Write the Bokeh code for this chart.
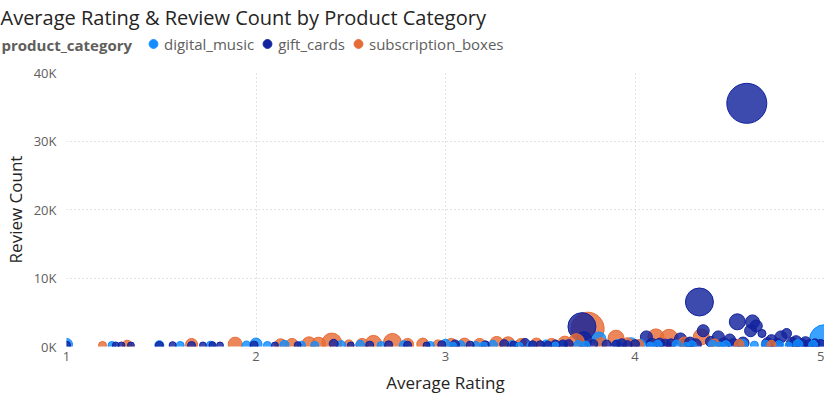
import numpy as np
import pandas as pd
from bokeh.plotting import figure
from bokeh.layouts import column
from bokeh.core.properties import value
from bokeh.models import (ColumnDataSource, Legend, LegendItem,
                          FixedTicker, CustomJSTickFormatter)
from bokeh.transform import factor_cmap
from bokeh.embed import file_html
from bokeh.resources import INLINE

# ---------------- data ----------------
categories = ["digital_music", "gift_cards", "subscription_boxes"]
colors = ["#118DFF", "#12239E", "#E66C37"]
legend_title = "product_category"
chart_title = "Average Rating & Review Count by Product Category"

dm_rating = [1.00, 1.24, 1.49, 1.60, 1.76, 1.95, 2.00, 2.06, 2.15, 2.24,
             2.31, 2.45, 2.55, 2.66, 2.78, 2.92, 3.00, 3.08, 3.16, 3.25,
             3.35, 3.45, 3.53, 3.62, 3.70, 3.81, 3.91, 3.98, 4.03, 4.12,
             4.22, 4.30, 4.41, 4.48, 4.57, 4.69, 4.76, 4.86, 4.94, 5.00,
             3.04, 3.20, 3.39, 3.58, 3.74, 4.08, 4.27, 4.45, 4.63, 4.81]
dm_count = [300, 150, 200, 150, 200, 150, 350, 150, 250, 200,
            150, 200, 250, 150, 200, 150, 350, 200, 150, 250,
            200, 150, 300, 200, 250, 1100, 300, 400, 350, 250,
            300, 200, 250, 200, 300, 250, 200, 300, 250, 1000,
            100, 150, 100, 150, 200, 150, 100, 150, 200, 150]
dm_size = [9, 4, 5, 4, 4, 5, 9, 4, 5, 4,
           4, 5, 5, 4, 5, 4, 6, 5, 4, 5,
           5, 4, 5, 5, 5, 12, 6, 9, 6, 5,
           5, 5, 5, 5, 6, 5, 5, 6, 5, 56,
           3, 3, 3, 3, 4, 3, 3, 3, 4, 3]

gc_rating = [1.00, 1.26, 1.29, 1.34, 1.49, 1.56, 1.66, 1.72, 1.77, 1.81,
             1.99, 2.10, 2.22, 2.41, 2.50, 2.60, 2.70, 2.80, 2.90, 2.98,
             3.05, 3.13, 3.21, 3.31, 3.42, 3.50, 3.58, 3.65, 3.72, 3.73,
             3.78, 3.85, 3.93, 4.00, 4.06, 4.13, 4.19, 4.24, 4.29, 4.34,
             4.36, 4.40, 4.44, 4.50, 4.54, 4.59, 4.61, 4.62, 4.64, 4.67,
             4.72, 4.77, 4.80, 4.85, 4.90, 4.95,
             4.09, 4.16, 4.27, 4.32, 4.47, 4.52, 4.57, 4.70, 4.75, 4.83,
             4.88, 4.92, 4.98, 3.36, 3.46, 3.54, 3.62, 3.90, 3.96]
gc_count = [200, 150, 150, 150, 150, 200, 150, 150, 200, 150,
            200, 150, 200, 400, 150, 200, 250, 200, 150, 250,
            300, 200, 250, 350, 450, 250, 300, 350, 2900, 1000,
            350, 300, 400, 350, 1400, 500, 400, 1100, 600, 6500,
            2300, 700, 1400, 1000, 3600, 35500, 2300, 3600, 3000, 1900,
            900, 1400, 1900, 700, 600, 400,
            300, 250, 350, 300, 400, 350, 500, 400, 350, 450,
            300, 250, 300, 200, 250, 200, 300, 250, 200]
gc_size = [4, 3, 3, 3, 4, 3, 4, 3, 3, 3,
           4, 3, 3, 5, 3, 4, 4, 4, 3, 4,
           5, 4, 4, 5, 6, 4, 5, 5, 49, 16,
           5, 5, 6, 5, 9, 6, 6, 9, 7, 49,
           9, 7, 9, 8, 16, 100, 9, 12, 9, 4,
           8, 9, 6, 9, 8, 6,
           9, 8, 9, 8, 9, 8, 9, 9, 8, 9,
           8, 6, 6, 4, 4, 4, 5, 5, 5]

sb_rating = [1.19, 1.32, 1.66, 1.89, 2.13, 2.19, 2.28, 2.33, 2.40, 2.49,
             2.56, 2.62, 2.72, 2.80, 2.88, 2.96, 3.03, 3.10, 3.18, 3.27,
             3.33, 3.40, 3.48, 3.56, 3.63, 3.69, 3.75, 3.82, 3.90, 3.96,
             4.02, 4.11, 4.18, 4.26, 4.35, 4.42, 4.55, 4.72]
sb_count = [150, 200, 300, 350, 250, 300, 400, 350, 500, 250,
            300, 450, 600, 300, 350, 250, 300, 350, 300, 450,
            400, 300, 350, 300, 500, 700, 2600, 400, 1200, 400,
            300, 1400, 1200, 500, 1400, 400, 300, 250]
sb_size = [4, 6, 9, 12, 9, 9, 12, 12, 25, 6,
           9, 16, 20, 9, 9, 6, 9, 9, 9, 12,
           12, 9, 9, 9, 12, 16, 68, 9, 16, 9,
           6, 16, 20, 9, 16, 6, 6, 5]

y_ticks = [0, 10000, 20000, 30000, 40000]
x_ticks = [1, 2, 3, 4, 5]

# ---------------- build ----------------
frames = []
for cat, r, c, s in [("digital_music", dm_rating, dm_count, dm_size),
                     ("gift_cards", gc_rating, gc_count, gc_size),
                     ("subscription_boxes", sb_rating, sb_count, sb_size)]:
    frames.append(pd.DataFrame({"category": cat, "rating": r,
                                "count": c, "size_metric": s}))
df = pd.concat(frames, ignore_index=True)
df["diam"] = 4.0 * np.sqrt(df["size_metric"])
df = df.sort_values("diam", ascending=False, kind="stable").reset_index(drop=True)
src = ColumnDataSource(df)

FONT = "Open Sans"
W = 824

# ---------- header figure: title + legend ----------
top = figure(width=W, height=58, x_range=(0, W), y_range=(0, 1),
             output_backend="svg", toolbar_location=None,
             title=chart_title,
             min_border_left=0, min_border_right=0, min_border_top=0,
             min_border_bottom=0, outline_line_color=None)
if "frame_align" in type(top).properties():
    top.frame_align = False
top.axis.visible = False
top.grid.visible = False
top.title.text_font = FONT
top.title.text_font_size = "20px"
top.title.text_font_style = "normal"
top.title.text_color = "#252423"
top.title.standoff = 2
top.title.offset = 0

top.text(x=[1], y=[0.5], text=[legend_title], text_font=value(FONT),
         text_font_size="15px", text_font_style="bold",
         text_color="#605E5C", text_baseline="middle", text_align="left")

items = []
for cat, col in zip(categories, colors):
    rr = top.scatter(x=[-100], y=[-10], size=12, fill_color=col,
                     line_color=col)
    items.append(LegendItem(label=cat, renderers=[rr]))
legend = Legend(items=items, orientation="horizontal", location=(142, 0),
                label_text_font=FONT, label_text_font_size="15px",
                label_text_color="#605E5C",
                glyph_width=22, glyph_height=29, label_standoff=0,
                spacing=2, padding=0, margin=0,
                background_fill_alpha=0, border_line_color=None)
top.add_layout(legend, "center")

# ---------- main figure ----------
p = figure(width=W, height=338, x_range=(1, 5), y_range=(0, 40000),
           output_backend="svg", toolbar_location=None,
           min_border_left=59, min_border_right=0, min_border_top=14,
           min_border_bottom=0, outline_line_color=None)

p.scatter("rating", "count", size="diam", source=src,
          fill_color=factor_cmap("category", colors, categories),
          line_color=factor_cmap("category", colors, categories),
          fill_alpha=0.82, line_alpha=1.0, line_width=1)

p.xaxis.ticker = FixedTicker(ticks=x_ticks)
p.yaxis.ticker = FixedTicker(ticks=y_ticks)
p.yaxis.formatter = CustomJSTickFormatter(code="return (tick/1000).toFixed(0) + 'K';")
for ax in (p.xaxis[0], p.yaxis[0]):
    ax.axis_line_color = None
    ax.major_tick_line_color = None
    ax.minor_tick_line_color = None
    ax.major_tick_out = 0
    ax.major_tick_in = 0
    ax.minor_tick_out = 0
    ax.minor_tick_in = 0
    ax.major_label_text_font = FONT
    ax.major_label_text_font_size = "13px"
    ax.major_label_text_color = "#605E5C"
    ax.axis_label_text_font = FONT
    ax.axis_label_text_font_size = "17px"
    ax.axis_label_text_font_style = "normal"
    ax.axis_label_text_color = "#252423"
p.xaxis.axis_label = "Average Rating"
p.yaxis.axis_label = "Review Count"
p.xaxis.major_label_standoff = 5
p.xaxis.axis_label_standoff = 7
p.yaxis.major_label_standoff = 10
p.yaxis.axis_label_standoff = 4

p.xgrid.grid_line_color = "#C8C6C4"
p.ygrid.grid_line_color = "#C8C6C4"
p.xgrid.grid_line_dash = "1 3"
p.ygrid.grid_line_dash = "1 3"

layout = column(top, p, spacing=0)
open("out.html", "w").write(file_html(layout, INLINE))
